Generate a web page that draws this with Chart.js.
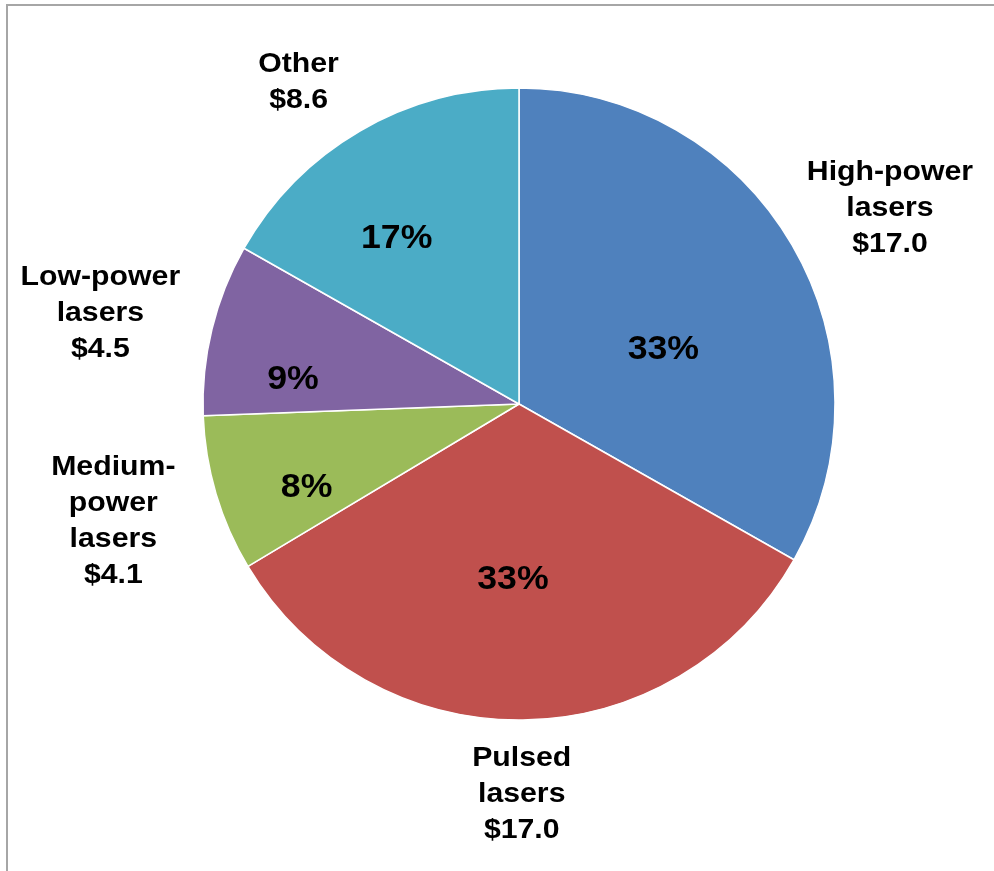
<!DOCTYPE html>
<html>
<head>
<meta charset="utf-8">
<script src="https://cdn.jsdelivr.net/npm/chart.js@4/dist/chart.umd.min.js"></script>
<style>
  html, body { margin: 0; padding: 0; background: #fff; }
  #wrap { position: relative; width: 994px; height: 871px; overflow: hidden; }
  #frame {
    position: absolute; left: 6px; top: 4px; right: -4px; bottom: -4px;
    border-top: 2px solid #a6a6a6; border-left: 2px solid #a6a6a6;
  }
  #pie { position: absolute; left: 0; top: 0; }
</style>
</head>
<body>
<div id="wrap">
  <div id="frame"></div>
  <canvas id="pie" width="994" height="871"></canvas>
</div>
<script>
/* ---------------------------------
   DATA
--------------------------------- */
const categories = [
  ["High-power", "lasers"],
  ["Pulsed", "lasers"],
  ["Medium-", "power", "lasers"],
  ["Low-power", "lasers"],
  ["Other"]
];
const revenue = [17.0, 17.0, 4.1, 4.5, 8.6];   // $ billions
const sliceColors = ["#4F81BD", "#C0504D", "#9BBB59", "#8064A2", "#4BACC6"];

/* ---------------------------------
   LABEL LAYOUT
   [radius fraction, angle nudge deg] from the slice middle
--------------------------------- */
const insidePlace = [[0.49, 9], [0.55, 2.7], [0.72, -4.5], [0.72, -7], [0.655, -6]];
const outsidePlace = [[1.33, 2.2], [1.23, 0.3], [1.335, 0.6], [1.357, -1.2], [1.24, -4]];

const total = revenue.reduce((a, b) => a + b, 0);

function drawText(ctx, text, x, y, size, stretch) {
  ctx.save();
  ctx.translate(x, y + 2);
  ctx.scale(stretch, 1);
  ctx.font = `bold ${size}px "Liberation Sans", Arial, sans-serif`;
  ctx.fillText(text, 0, 0);
  ctx.restore();
}

function polar(x, y, angle, r) {
  return [x + Math.cos(angle) * r, y + Math.sin(angle) * r];
}

const pieLabels = {
  id: "pieLabels",
  afterDatasetsDraw(chart) {
    const ctx = chart.ctx;
    const arcs = chart.getDatasetMeta(0).data;
    const deg = Math.PI / 180;
    ctx.save();
    ctx.fillStyle = "#000";
    ctx.textAlign = "center";
    ctx.textBaseline = "middle";
    arcs.forEach((arc, i) => {
      const { x, y, startAngle, endAngle, outerRadius } = arc.getProps(
        ["x", "y", "startAngle", "endAngle", "outerRadius"], true);
      const mid = (startAngle + endAngle) / 2;

      // percentage inside the slice
      const [fi, ni] = insidePlace[i];
      const [px, py] = polar(x, y, mid + ni * deg, outerRadius * fi);
      const pct = Math.round(revenue[i] / total * 100) + "%";
      drawText(ctx, pct, px, py, 33, 1.08);

      // category name and value outside
      const [fo, no] = outsidePlace[i];
      const [cx, cy] = polar(x, y, mid + no * deg, outerRadius * fo);
      const lines = categories[i].concat("$" + revenue[i].toFixed(1));
      const lh = 36;
      lines.forEach((t, k) => {
        drawText(ctx, t, cx, cy + (k - (lines.length - 1) / 2) * lh, 28, 1.08);
      });
    });
    ctx.restore();
  }
};

new Chart(document.getElementById("pie"), {
  type: "pie",
  data: {
    labels: categories.map((c) => c.join(" ")),
    datasets: [{
      data: revenue,
      backgroundColor: sliceColors,
      borderColor: "#ffffff",
      borderWidth: 1.5,
      radius: 316,
      hoverOffset: 0
    }]
  },
  options: {
    responsive: false,
    animation: false,
    layout: { padding: { left: 44, right: 0, top: 0, bottom: 63 } },
    plugins: {
      legend: { display: false },
      tooltip: { enabled: false }
    }
  },
  plugins: [pieLabels]
});
</script>
</body>
</html>
